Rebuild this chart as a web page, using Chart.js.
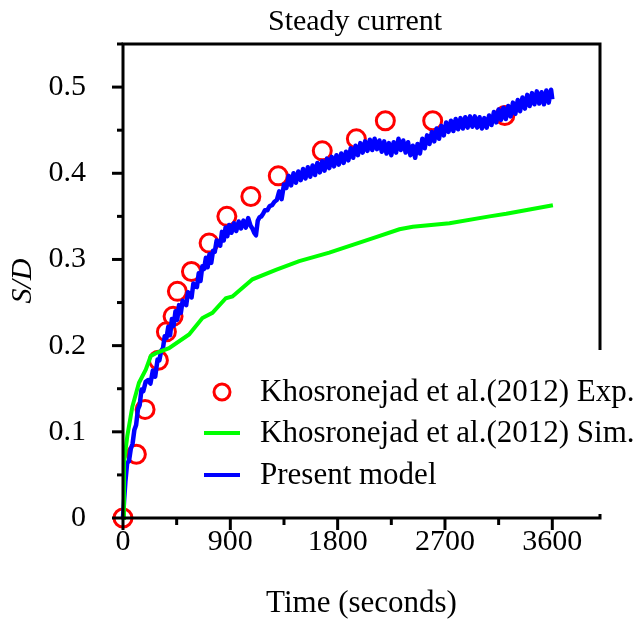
<!DOCTYPE html>
<html><head><meta charset="utf-8">
<script src="https://cdn.jsdelivr.net/npm/chart.js@4"></script>
<style>html,body{margin:0;padding:0;background:#fff;overflow:hidden;}</style>
</head><body>
<canvas id="c" width="643" height="623" style="width:643px;height:623px;display:block"></canvas>
<script>
const titleText = 'Steady current';
const xAxisTitle = 'Time (seconds)';
const yAxisTitle = 'S/D';
const seriesLabels = ['Khosronejad et al.(2012) Exp.', 'Khosronejad et al.(2012) Sim.', 'Present model'];

const expTime = [0, 112, 185, 297, 364, 420, 456, 574, 722, 871, 1072, 1302, 1671, 1957, 2200, 2597, 3202];
const expSD   = [0, 0.074, 0.126, 0.183, 0.216, 0.234, 0.263, 0.286, 0.319, 0.350, 0.373, 0.397, 0.426, 0.440, 0.461, 0.461, 0.467];

const simTime = [0, 8, 36, 78, 134, 191, 233, 288, 386, 554, 666, 750, 862, 918, 1086, 1282, 1478, 1730, 1926, 2122, 2318, 2430, 2738, 3074, 3214, 3605];
const simSD   = [0, 0.064, 0.095, 0.129, 0.157, 0.172, 0.188, 0.192, 0.197, 0.213, 0.232, 0.238, 0.255, 0.257, 0.277, 0.288, 0.298, 0.308, 0.317, 0.326, 0.335, 0.338, 0.342, 0.350, 0.353, 0.363];

const modelTime = [0,10,20,35,50,65,80,95,110,125,
  140,155,170,190,210,230,250,270,290,305,
  320,335,350,365,380,395,410,425,440,455,
  470,485,500,515,530,545,560,575,590,605,
  620,635,650,665,680,695,710,725,740,755,
  770,785,800,815,830,845,860,875,890,910,
  930,950,970,990,1010,1030,1050,1070,1085,1100,
  1115,1130,1145,1160,1175,1190,1210,1230,1250,1270,
  1290,1310,1330,1350,1370,1390,1410,1430,1450,1470,
  1490,1510,1530,1550,1570,1590,1610,1630,1650,1670,
  1690,1710,1730,1750,1770,1790,1810,1830,1850,1870,
  1890,1910,1930,1950,1970,1990,2010,2030,2050,2070,
  2090,2110,2130,2150,2170,2190,2210,2230,2250,2270,
  2290,2310,2330,2350,2370,2390,2410,2430,2450,2470,
  2490,2510,2530,2550,2570,2590,2610,2630,2650,2670,
  2690,2710,2730,2750,2770,2790,2810,2830,2850,2870,
  2890,2910,2930,2950,2970,2990,3010,3030,3050,3070,
  3090,3110,3130,3150,3170,3190,3210,3230,3250,3270,
  3290,3310,3330,3350,3370,3390,3410,3430,3450,3470,
  3490,3510,3530,3550,3570,3590,3600];
const modelSD = [0,0.022,0.042,0.064,0.066,0.080,0.086,0.102,0.108,0.126,
  0.131,0.149,0.147,0.158,0.160,0.156,0.171,0.164,0.184,0.183,
  0.194,0.197,0.211,0.209,0.222,0.212,0.231,0.223,0.240,0.230,
  0.247,0.238,0.252,0.249,0.247,0.262,0.259,0.256,0.272,0.269,
  0.268,0.284,0.275,0.292,0.289,0.302,0.291,0.306,0.296,0.310,
  0.309,0.322,0.319,0.316,0.332,0.322,0.337,0.327,0.340,0.331,
  0.342,0.333,0.344,0.336,0.345,0.337,0.348,0.339,0.336,0.331,
  0.328,0.345,0.349,0.350,0.353,0.357,0.357,0.362,0.363,0.367,
  0.369,0.379,0.370,0.387,0.383,0.397,0.386,0.400,0.389,0.402,
  0.392,0.405,0.394,0.407,0.396,0.409,0.398,0.412,0.401,0.414,
  0.403,0.417,0.406,0.419,0.408,0.421,0.410,0.423,0.412,0.425,
  0.415,0.429,0.418,0.432,0.421,0.435,0.424,0.437,0.426,0.439,
  0.427,0.440,0.428,0.438,0.425,0.437,0.423,0.435,0.421,0.436,
  0.424,0.440,0.427,0.438,0.424,0.436,0.421,0.432,0.418,0.434,
  0.423,0.440,0.429,0.444,0.434,0.448,0.437,0.452,0.440,0.455,
  0.444,0.459,0.448,0.461,0.449,0.463,0.451,0.464,0.452,0.465,
  0.453,0.466,0.454,0.466,0.453,0.465,0.452,0.464,0.453,0.467,
  0.456,0.471,0.459,0.474,0.462,0.476,0.463,0.478,0.466,0.482,
  0.469,0.485,0.472,0.488,0.475,0.491,0.478,0.493,0.480,0.495,
  0.481,0.494,0.480,0.496,0.482,0.497,0.486];

const xMajorTicks = [0, 900, 1800, 2700, 3600];
const xMinorTicks = [450, 1350, 2250, 3150];
const xTickLabels = ['0', '900', '1800', '2700', '3600'];
const yMajorTicks = [0, 0.1, 0.2, 0.3, 0.4, 0.5];
const yMinorTicks = [0.05, 0.15, 0.25, 0.35, 0.45, 0.55];
const yTickLabels = ['0', '0.1', '0.2', '0.3', '0.4', '0.5'];

const FONT = "'Liberation Serif', 'Times New Roman', serif";
const RED = '#ff0000', GREEN = '#00ff00', BLUE = '#0000ff';

function pts(xs, ys) { return xs.map((t, i) => ({x: t, y: ys[i]})); }

const framePlugin = {
  id: 'framePlugin',
  afterDraw(chart) {
    const {ctx, chartArea: a, scales: {x, y}} = chart;
    ctx.save();
    ctx.strokeStyle = '#000';
    ctx.lineWidth = 3;
    ctx.lineCap = 'butt';
    ctx.beginPath();
    ctx.rect(a.left, a.top, a.right - a.left, a.bottom - a.top);
    ctx.stroke();
    const seg = (x1, y1, x2, y2) => { ctx.beginPath(); ctx.moveTo(x1, y1); ctx.lineTo(x2, y2); ctx.stroke(); };
    xMajorTicks.forEach(v => { const p = x.getPixelForValue(v); seg(p, a.bottom, p, a.bottom + 12); });
    xMinorTicks.forEach(v => { const p = x.getPixelForValue(v); seg(p, a.bottom, p, a.bottom + 7); });
    yMajorTicks.forEach(v => { const p = y.getPixelForValue(v); seg(a.left - 11, p, a.left, p); });
    yMinorTicks.forEach(v => { const p = y.getPixelForValue(v); seg(a.left - 6, p, a.left, p); });

    // legend
    ctx.fillStyle = '#fff';
    ctx.fillRect(198, 350, 445, 164);
    const rows = [392, 433, 475];
    const ds = chart.data.datasets;
    ctx.lineWidth = 3;
    ctx.strokeStyle = ds[0].borderColor;
    ctx.beginPath(); ctx.arc(222, rows[0], 8, 0, Math.PI * 2); ctx.stroke();
    ctx.lineWidth = 4;
    ctx.strokeStyle = ds[1].borderColor; seg(204, rows[1], 240, rows[1]);
    ctx.strokeStyle = ds[2].borderColor; seg(204, rows[2], 240, rows[2]);
    ctx.fillStyle = '#000';
    ctx.font = '31px ' + FONT;
    ctx.textAlign = 'left';
    ctx.textBaseline = 'alphabetic';
    ds.forEach((d, i) => ctx.fillText(d.label, 260, rows[i] + 9));

    // title
    ctx.font = '30px ' + FONT;
    ctx.textAlign = 'center';
    ctx.fillText(titleText, 355, 30);
    ctx.restore();
  }
};

new Chart(document.getElementById('c'), {
  type: 'scatter',
  data: {
    datasets: [
      { label: seriesLabels[0], data: pts(expTime, expSD), showLine: false, pointStyle: 'circle',
        pointRadius: 9, pointBorderWidth: 3, borderColor: RED, pointBorderColor: RED,
        backgroundColor: 'rgba(0,0,0,0)', pointBackgroundColor: 'rgba(0,0,0,0)', order: 2, clip: false },
      { label: seriesLabels[1], data: pts(simTime, simSD), showLine: true, borderColor: GREEN,
        borderWidth: 4, pointRadius: 0, tension: 0, order: 0, clip: false },
      { label: seriesLabels[2], data: pts(modelTime, modelSD), showLine: true, borderColor: BLUE,
        borderWidth: 4.5, pointRadius: 0, tension: 0, order: 1, clip: false, borderJoinStyle: 'round' }
    ]
  },
  options: {
    responsive: false,
    animation: false,
    devicePixelRatio: 1,
    layout: { padding: { top: 44, right: 43, left: 0, bottom: 0 } },
    plugins: { legend: { display: false }, title: { display: false }, tooltip: { enabled: false } },
    scales: {
      x: {
        type: 'linear', min: 0, max: 4000,
        afterBuildTicks: s => { s.ticks = xMajorTicks.map(v => ({value: v})); },
        afterFit: s => { s.height = 105; s.paddingLeft = 0; s.paddingRight = 0; },
        grid: { display: false, drawTicks: false },
        border: { display: false },
        ticks: { padding: 6, color: '#000', font: { family: FONT, size: 30 }, maxRotation: 0,
          callback: (v) => xTickLabels[xMajorTicks.indexOf(v)] },
        title: { display: true, text: xAxisTitle, color: '#000', font: { family: FONT, size: 31 }, padding: { top: 0, bottom: 1 } }
      },
      y: {
        type: 'linear', min: 0, max: 0.55,
        afterBuildTicks: s => { s.ticks = yMajorTicks.map(v => ({value: v})); },
        afterFit: s => { s.width = 123; s.paddingTop = 0; s.paddingBottom = 0; },
        grid: { display: false, drawTicks: false },
        border: { display: false },
        ticks: { padding: 37, color: '#000', font: { family: FONT, size: 30 },
          callback: (v) => yTickLabels[yMajorTicks.findIndex(t => Math.abs(t - v) < 1e-9)] },
        title: { display: true, text: yAxisTitle, color: '#000', font: { family: FONT, size: 30, style: 'italic' }, padding: { top: 5, bottom: 0 } }
      }
    }
  },
  plugins: [framePlugin]
});
</script>
</body></html>
